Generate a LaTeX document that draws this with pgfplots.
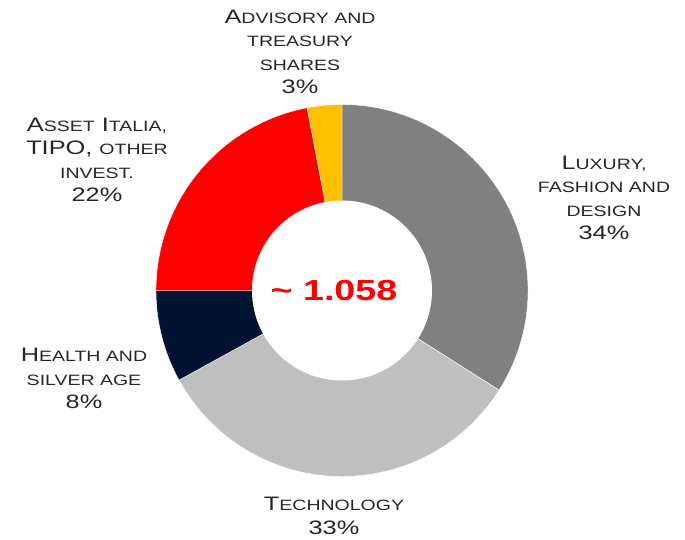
\documentclass[border=0pt]{standalone}
\usepackage{fontspec}
\setmainfont{Liberation Sans}[FakeStretch=1.3]
\usepackage{pgfplots}
\usepackage{pgfplotstable}
\pgfplotsset{compat=1.18}

\definecolor{slice0}{RGB}{128,128,128}
\definecolor{slice1}{RGB}{191,191,191}
\definecolor{slice2}{RGB}{0,19,50}
\definecolor{slice3}{RGB}{255,0,0}
\definecolor{slice4}{RGB}{255,192,0}
\definecolor{labtxt}{RGB}{38,38,38}

% shares in percent, clockwise from 12 o'clock
\pgfplotstableread{
share
34
33
8
22
3
}\sharetable

\newcommand\sm[1]{{\fontsize{15}{23.5}\selectfont #1}}

\begin{document}
\begin{tikzpicture}
\begin{axis}[
    x=1pt, y=1pt,
    xmin=0, xmax=685, ymin=0, ymax=539,
    hide axis, clip=false,
]
\xdef\startang{90}
\pgfplotstableforeachcolumnelement{share}\of\sharetable\as\p{%
  \pgfmathsetmacro\dang{-3.6*\p}%
  \edef\temp{\noexpand\fill[slice\pgfplotstablerow, draw=white, line width=0.4pt]
    (axis cs:342,248.5) -- ++(\startang:186pt)
    arc[start angle=\startang, delta angle=\dang, radius=186pt] -- cycle;}%
  \temp
  \pgfmathsetmacro\nextang{\startang+\dang}%
  \xdef\startang{\nextang}%
}
\fill[white] (axis cs:342,248.5) circle[radius=90];

\begin{scope}[every node/.style={align=center, text=labtxt,
    font=\fontsize{19.5}{23.5}\selectfont}]
\node at (axis cs:300,487) {A\sm{DVISORY AND}\\\sm{TREASURY}\\\sm{SHARES}\\3\%};
\node at (axis cs:97,379) {A\sm{SSET} I\sm{TALIA,}\\TIPO, \sm{OTHER}\\\sm{INVEST.}\\22\%};
\node at (axis cs:604,341) {L\sm{UXURY,}\\\sm{FASHION AND}\\\sm{DESIGN}\\34\%};
\node at (axis cs:84,160.5) {H\sm{EALTH AND}\\\sm{SILVER AGE}\\8\%};
\node at (axis cs:334,23) {T\sm{ECHNOLOGY}\\33\%};
\end{scope}
\node[text=red, font=\fontsize{29}{32}\selectfont\bfseries] at (axis cs:334,248) {\char`~\ 1.058};
\end{axis}
\pgfresetboundingbox
\path (current axis.south west) rectangle (current axis.north east);
\end{tikzpicture}
\end{document}
